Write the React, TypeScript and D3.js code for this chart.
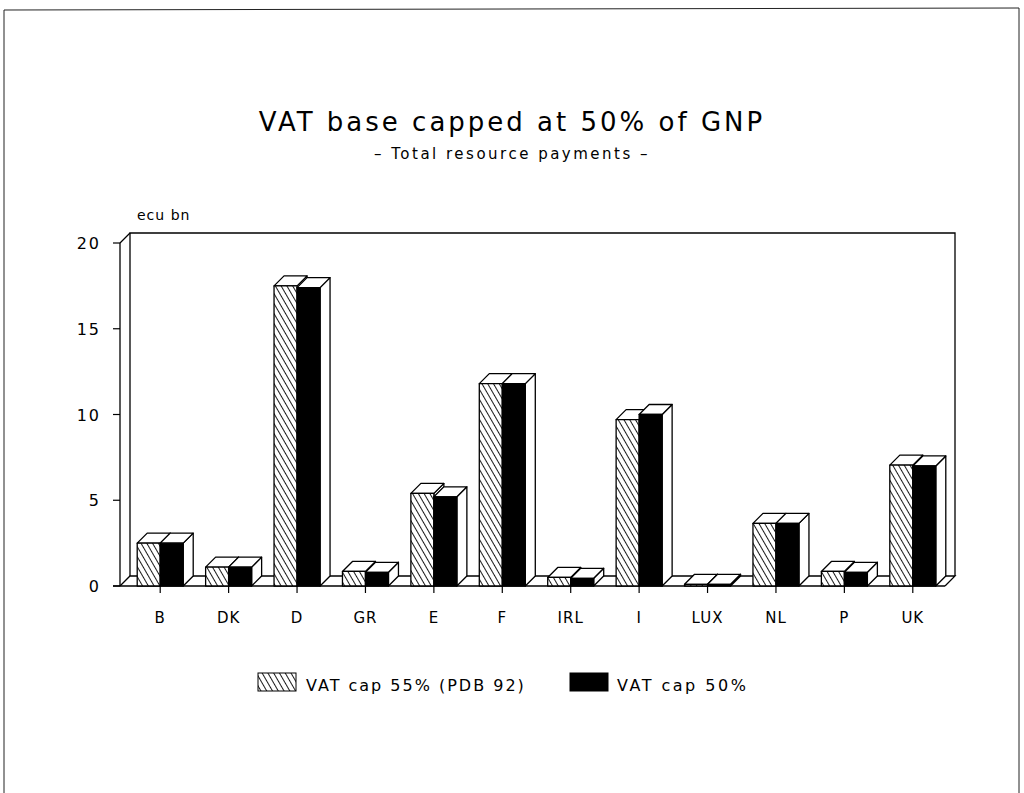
import React from "react";
import * as d3 from "d3";

const categories = ["B", "DK", "D", "GR", "E", "F", "IRL", "I", "LUX", "NL", "P", "UK"];
const vatCap55 = [2.5, 1.1, 17.5, 0.85, 5.4, 11.8, 0.5, 9.7, 0.1, 3.65, 0.85, 7.05];
const vatCap50 = [2.5, 1.1, 17.4, 0.8, 5.2, 11.8, 0.45, 10.0, 0.1, 3.65, 0.8, 7.0];
const yTicks = [0, 5, 10, 15, 20];
const seriesNames = ["VAT cap 55% (PDB 92)", "VAT cap 50%"];

const W = 1024;
const H = 793;
const X0 = 120;
const X1 = 945;
const DX = 10;
const DY = -10;
const BAR_W = 23;
const FONT = "'DejaVu Sans', 'Liberation Sans', sans-serif";

export default function App() {
  const x = d3.scaleBand<string>().domain(categories).range([126, 947]).padding(0);
  const y = d3.scaleLinear().domain([0, 20]).range([586, 243]);
  const y0 = y(0);

  const bar3d = (left: number, val: number, fill: string, key: string) => {
    const top = y(val);
    const right = left + BAR_W;
    const front = `M${left},${y0}L${left},${top}L${right},${top}L${right},${y0}Z`;
    const topFace = `M${left},${top}L${left + DX},${top + DY}L${right + DX},${top + DY}L${right},${top}Z`;
    const side = `M${right},${top}L${right + DX},${top + DY}L${right + DX},${y0 + DY}L${right},${y0}Z`;
    return (
      <g key={key} stroke="#000" strokeWidth={1.3} strokeLinejoin="round">
        <path d={side} fill="#fff" />
        <path d={topFace} fill="#fff" />
        <path d={front} fill={fill} />
      </g>
    );
  };

  return (
    <svg width={W} height={H} style={{ display: "block", position: "absolute", left: 0, top: 0 }}>
      <defs>
        <pattern id="hatch" patternUnits="userSpaceOnUse" width="5" height="5" patternTransform="rotate(-30)">
          <rect width="5" height="5" fill="#fff" />
          <line x1="0" y1="0" x2="0" y2="5" stroke="#000" strokeWidth="1.8" />
        </pattern>
      </defs>
      <rect width={W} height={H} fill="#fff" />
      {/* page border */}
      <path d={`M4,${H}L4,10L1019,8L1019,${H}`} fill="none" stroke="#222" strokeWidth={1} />

      {/* titles */}
      <text x={512} y={131} textAnchor="middle" fontFamily={FONT} fontSize={26} letterSpacing={3} fill="#000">
        VAT base capped at 50% of GNP
      </text>
      <text x={512} y={159} textAnchor="middle" fontFamily={FONT} fontSize={15} letterSpacing={2.5} fill="#000">
        – Total resource payments –
      </text>
      <text x={137} y={220} fontFamily={FONT} fontSize={14} letterSpacing={1} fill="#000">ecu bn</text>

      {/* back wall & floor */}
      <g stroke="#000" strokeWidth={1.3} fill="none">
        <path d={`M${X0 + DX},${y0 + DY}L${X0 + DX},${y(20) + DY}L${X1 + DX},${y(20) + DY}L${X1 + DX},${y0 + DY}`} />
        <path d={`M${X0},${y(20)}L${X0 + DX},${y(20) + DY}`} />
        <path d={`M${X0},${y0}L${X0 + DX},${y0 + DY}L${X1 + DX},${y0 + DY}L${X1},${y0}`} />
        <line x1={X0} y1={y(20)} x2={X0} y2={y0} />
        <line x1={X0 - 7} y1={y0} x2={X1} y2={y0} />
      </g>

      {/* y ticks */}
      {yTicks.map((t) => (
        <g key={t}>
          <line x1={X0 - 7} x2={X0} y1={y(t)} y2={y(t)} stroke="#000" strokeWidth={1.2} />
          <text x={101} y={y(t) + 6} textAnchor="end" fontFamily={FONT} fontSize={16} letterSpacing={2} fill="#000">
            {t}
          </text>
        </g>
      ))}

      {/* bars */}
      {categories.map((c, i) => {
        const cx = (x(c) as number) + x.bandwidth() / 2;
        return (
          <g key={c}>
            {bar3d(cx - BAR_W, vatCap55[i], "url(#hatch)", c + "a")}
            {bar3d(cx, vatCap50[i], "#000", c + "b")}
            <line x1={cx} x2={cx} y1={y0} y2={y0 + 7} stroke="#000" strokeWidth={1.2} />
            <text x={cx} y={y0 + 37} textAnchor="middle" fontFamily={FONT} fontSize={15} letterSpacing={1} fill="#000">
              {c}
            </text>
          </g>
        );
      })}

      {/* legend */}
      <rect x={258} y={673} width={38} height={18} fill="url(#hatch)" stroke="#000" strokeWidth={1} />
      <text x={306} y={691} fontFamily={FONT} fontSize={16} letterSpacing={2} fill="#000">{seriesNames[0]}</text>
      <rect x={570} y={673} width={38} height={18} fill="#000" stroke="#000" strokeWidth={1} />
      <text x={617} y={691} fontFamily={FONT} fontSize={16} letterSpacing={2.5} fill="#000">{seriesNames[1]}</text>
    </svg>
  );
}
